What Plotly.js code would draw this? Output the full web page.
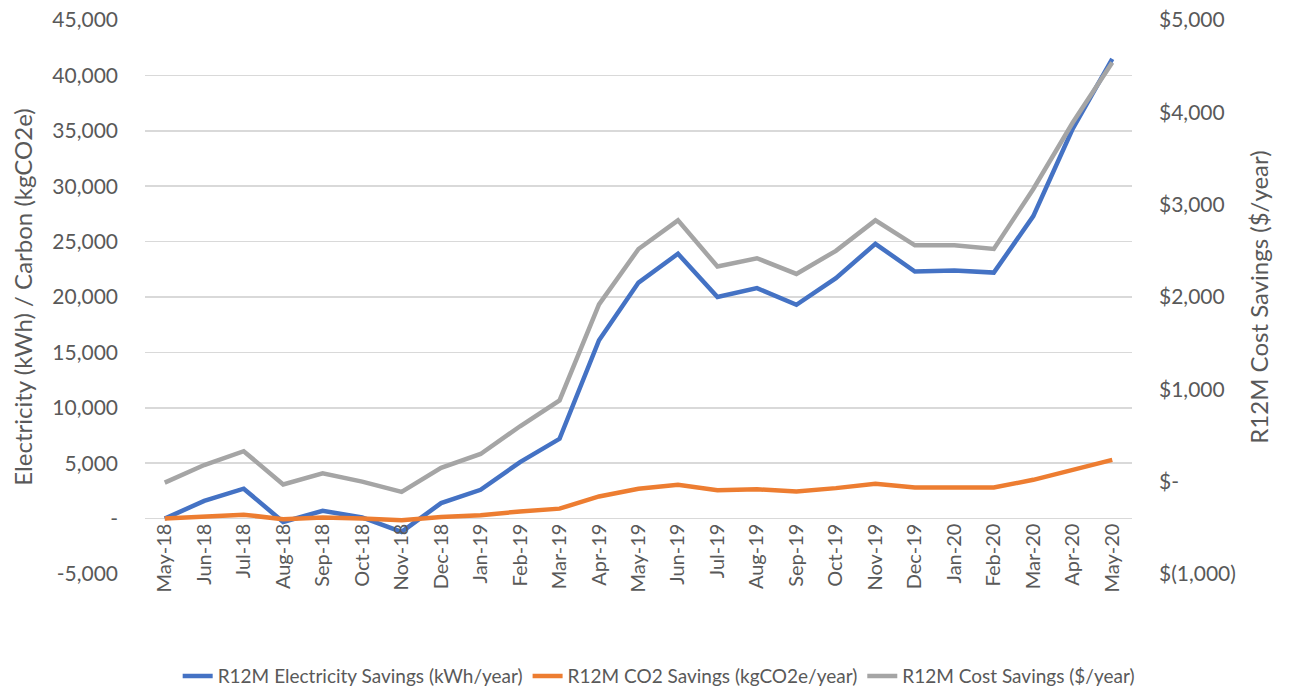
<!DOCTYPE html>
<html>
<head>
<meta charset="utf-8">
<script src="https://cdn.plot.ly/plotly-3.0.1.min.js"></script>
<style>html,body{margin:0;padding:0;background:#fff;}#chart{width:1289px;height:690px;}</style>
</head>
<body>
<div id="chart"></div>
<script>
const months = ["May-18","Jun-18","Jul-18","Aug-18","Sep-18","Oct-18","Nov-18","Dec-18","Jan-19","Feb-19","Mar-19","Apr-19","May-19","Jun-19","Jul-19","Aug-19","Sep-19","Oct-19","Nov-19","Dec-19","Jan-20","Feb-20","Mar-20","Apr-20","May-20"];
const electricity = [0,1600,2700,-300,700,100,-1200,1400,2600,5100,7200,16100,21300,23900,20000,20800,19300,21700,24800,22300,22400,22200,27300,35200,41500];
const co2 = [0,200,350,-50,100,0,-150,150,300,650,900,2000,2700,3050,2550,2650,2450,2750,3150,2800,2800,2800,3500,4450,5300];
const cost = [-10,180,330,-30,90,0,-110,150,300,600,880,1920,2520,2830,2330,2420,2250,2500,2830,2560,2560,2520,3170,3890,4540];
const leftTickVals = [-5000,0,5000,10000,15000,20000,25000,30000,35000,40000,45000];
const leftTickText = ["-5,000","-","5,000","10,000","15,000","20,000","25,000","30,000","35,000","40,000","45,000"];
const rightTickVals = [-1000,0,1000,2000,3000,4000,5000];
const rightTickText = ["$(1,000)","$-","$1,000","$2,000","$3,000","$4,000","$5,000"];

const font = "Lato, 'Open Sans', sans-serif";
const traces = [
  {x: months, y: electricity, name: "R12M Electricity Savings (kWh/year)", type: "scatter", mode: "lines", line: {color: "#4472C4", width: 4.5}},
  {x: months, y: co2, name: "R12M CO2 Savings (kgCO2e/year)", type: "scatter", mode: "lines", line: {color: "#ED7D31", width: 4.5}},
  {x: months, y: cost, name: "R12M Cost Savings ($/year)", type: "scatter", mode: "lines", yaxis: "y2", line: {color: "#A5A5A5", width: 4.5}}
];
const layout = {
  width: 1289, height: 690,
  margin: {l: 145, r: 157, t: 20, b: 116},
  paper_bgcolor: "#fff", plot_bgcolor: "#fff",
  font: {family: font, color: "#595959", size: 21},
  showlegend: true,
  legend: {orientation: "h", xref: "container", yref: "container", x: 0.511, xanchor: "center", y: 0.02, yanchor: "middle", font: {size: 19, color: "#595959"}, itemwidth: 30, tracegroupgap: 0},
  xaxis: {type: "category", range: [-0.5, 24.5], anchor: "free", position: (0 - (-5000)) / 50000, tickangle: -90, showgrid: false, zeroline: false, showline: false, ticks: "", tickfont: {size: 20, color: "#595959"}},
  yaxis: {range: [-5000, 45000], tickvals: leftTickVals, ticktext: leftTickText, showgrid: true, gridcolor: "#D9D9D9", gridwidth: 1.5, zeroline: false, ticks: "", ticklabelstandoff: 26, tickfont: {size: 21, color: "#595959"},
    title: {text: "Electricity (kWh) / Carbon (kgCO2e)", font: {size: 24, color: "#595959"}, standoff: 12}},
  yaxis2: {range: [-1000, 5000], overlaying: "y", side: "right", tickvals: rightTickVals, ticktext: rightTickText, showgrid: false, zeroline: false, ticks: "", ticklabelstandoff: 26, tickfont: {size: 21, color: "#595959"},
    title: {text: "R12M Cost Savings ($/year)", font: {size: 24, color: "#595959"}, standoff: 16}}
};
Plotly.newPlot("chart", traces, layout, {displayModeBar: false, staticPlot: true});
</script>
</body>
</html>
